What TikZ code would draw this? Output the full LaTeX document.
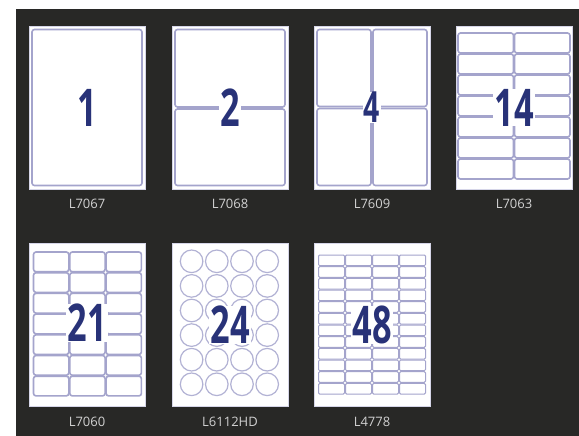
\documentclass[tikz,border=0pt]{standalone}
\usepackage{fontspec}
\setmainfont{Open Sans}
\usetikzlibrary{positioning}
\definecolor{darkbg}{HTML}{282826}
\definecolor{avyline}{HTML}{A4A4CC}
\definecolor{avynum}{HTML}{283278}
\newcommand{\sheetnum}[1]{\scalebox{0.66}[1]{#1}}

\begin{document}
\begin{tikzpicture}[x=1pt, y=-1pt,
          sheet/.style={
              draw=avyline!45,
              fill=white,
              line width=0.8pt,
              minimum width=116pt,
              minimum height=163pt,
              inner sep=0pt
            },
          cell/.style={draw=avyline, line width=1.6pt, rounded corners=2.5pt},
          smallcell/.style={draw=avyline, line width=1pt, rounded corners=1.2pt},
          disc/.style={draw=avyline!85, line width=1.2pt},
          num/.style={
              fill=white,
              inner xsep=1pt,
              inner ysep=0pt,
              text=avynum,
              font=\fontsize{52}{52}\selectfont\bfseries
            },
          code/.style={text=white!82!black, font=\fontsize{13}{13}\selectfont}
        ]
        \useasboundingbox (0,0) rectangle (579,436);
        \fill[white] (0,0) rectangle (579,436);
        \fill[darkbg] (16,9) rectangle (579,436);

        % first row
        \node[sheet] (l7067) at (87,107.5) {};
        \node[sheet] (l7068) at (230,107.5) {};
        \node[sheet] (l7609) at (372,107.5) {};
        \node[sheet] (l7063) at (514,107.5) {};

        % second row
        \node[sheet] (l7060) at (87,325) {};
        \node[sheet] (l6112) at (230,325) {};
        \node[sheet] (l4778) at (372,325) {};

        % 1 label
        \draw[cell] (32,29.5) rectangle (142,185.5);

        % 2 labels
        \draw[cell] (175,29.5) rectangle (285,107);
        \draw[cell] (175,109) rectangle (285,185.5);

        % 4 labels
        \foreach \i in {0,1} {
          \foreach \j in {0,1} {
            \draw[cell] (317+\i*56,29.5+\j*79) rectangle (371+\i*56,106.5+\j*79);
          }
        }

        % 14 labels
        \foreach \i in {0,1} {
          \foreach \j in {0,...,6} {
            \draw[cell] (458+\i*56.5,33+\j*21) rectangle (513.5+\i*56.5,53+\j*21);
          }
        }

        % 21 labels
        \foreach \i in {0,1,2} {
          \foreach \j in {0,...,6} {
            \draw[cell] (33.5+\i*36.3,252+\j*20.7) rectangle (68.8+\i*36.3,271.7+\j*20.7);
          }
        }

        % 24 round labels
        \foreach \i in {0,...,3} {
          \foreach \j in {0,...,5} {
            \draw[disc] (191.6+\i*25.2,261.3+\j*24.6) circle (11.3);
          }
        }

        % 48 labels
        \foreach \i in {0,...,3} {
          \foreach \j in {0,...,11} {
            \draw[smallcell] (318.5+\i*27,255+\j*11.67) rectangle (344.5+\i*27,265.67+\j*11.67);
          }
        }

        % counts
        \node[num] (n1) at (l7067.center) {\sheetnum{1}};
        \node[num] (n2) at (l7068.center) {\sheetnum{2}};
        \node[num, font=\fontsize{43}{43}\selectfont\bfseries] (n4) at (l7609.center) {\sheetnum{4}};
        \node[num] (n14) at (l7063.center) {\sheetnum{14}};
        \node[num] (n21) at ([yshift=2pt]l7060.center) {\sheetnum{21}};
        \node[num] (n24) at (l6112.center) {\sheetnum{24}};
        \node[num] (n48) at (l4778.center) {\sheetnum{48}};

        % product codes
        \node[code] (c7067) at (87,203.5) {L7067};
        \node[code] (c7068) at (230,203.5) {L7068};
        \node[code] (c7609) at (372,203.5) {L7609};
        \node[code] (c7063) at (514,203.5) {L7063};
        \node[code] (c7060) at (87,422) {L7060};
        \node[code] (c6112) at (230,422) {L6112HD};
        \node[code] (c4778) at (372,422) {L4778};
      \end{tikzpicture}
\end{document}
